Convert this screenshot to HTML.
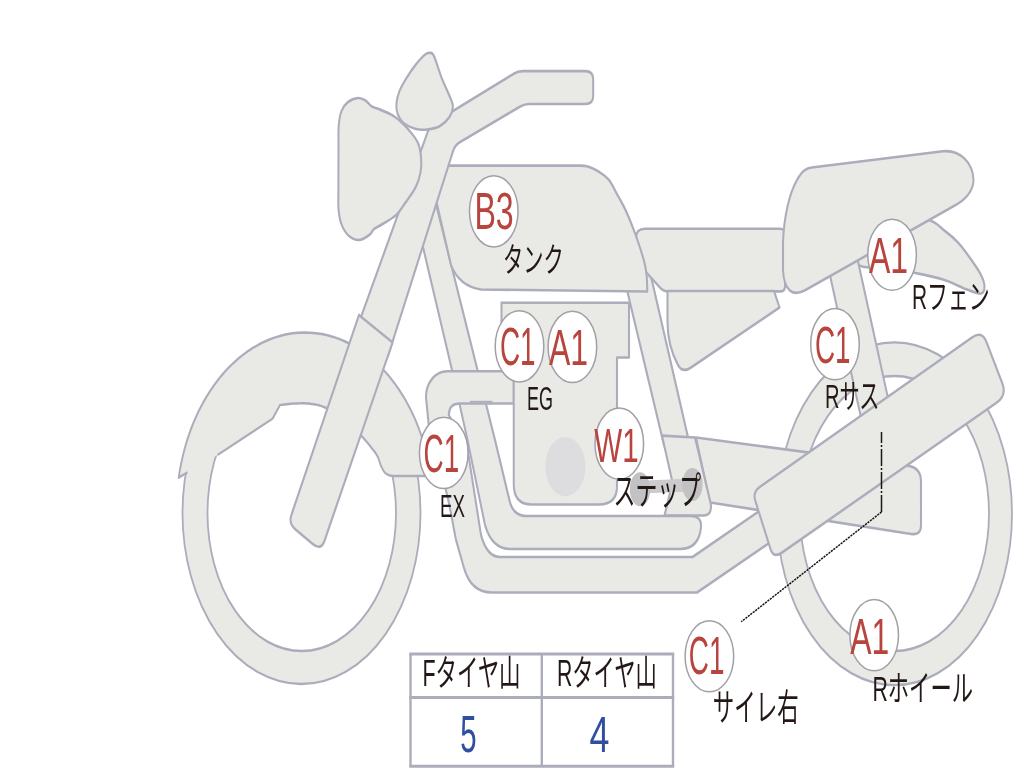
<!DOCTYPE html>
<html lang="ja"><head><meta charset="utf-8"><title>Motorcycle condition diagram</title>
<style>
html,body{margin:0;padding:0;background:#fff;}
body{width:1024px;height:768px;overflow:hidden;font-family:"Liberation Sans",sans-serif;}
svg{display:block;filter:blur(0.7px);}
.t{font-family:"Liberation Sans","Noto Sans CJK JP",sans-serif;}
</style></head><body>
<svg width="1024" height="768" viewBox="0 0 1024 768">
<rect width="1024" height="768" fill="#fff"/>
<path transform="scale(1,1.3)" d="M777 395.19 A117.5,131.73 0 1 0 1012,395.19 A117.5,131.73 0 1 0 777,395.19 Z M800 395 A94.5,105.77 0 1 0 989,395 A94.5,105.77 0 1 0 800,395 Z" fill="#e9eae6" stroke="#acadbb" stroke-width="1.8" stroke-linejoin="round" fill-rule="evenodd"/>
<path transform="scale(1,1.3)" d="M182.5 394.62 A119,131.54 0 1 0 420.5,394.62 A119,131.54 0 1 0 182.5,394.62 Z M207.5 394.62 A94.25,106.15 0 1 0 396,394.62 A94.25,106.15 0 1 0 207.5,394.62 Z" fill="#e9eae6" stroke="#acadbb" stroke-width="1.8" stroke-linejoin="round" fill-rule="evenodd"/>
<path transform="scale(1,1.3)" d="M178.7 367.41 L179.98 361.23 L181.52 355.12 L183.32 349.1 L185.37 343.17 L187.67 337.35 L190.21 331.65 L192.99 326.07 L196 320.64 L199.24 315.36 L202.7 310.25 L206.37 305.32 L210.25 300.56 L214.33 296.01 L218.59 291.65 L223.03 287.52 L227.64 283.6 L232.41 279.92 L237.34 276.47 L242.4 273.27 L247.6 270.32 L252.91 267.63 L258.33 265.2 L263.85 263.05 L269.45 261.16 L275.13 259.55 L280.87 258.23 L286.66 257.18 L292.49 256.42 L298.35 255.95 L304.21 255.77 L310.08 255.88 L315.94 256.27 L321.78 256.95 L327.58 257.92 L333.33 259.17 L339.03 260.7 L344.66 262.52 L350.2 264.6 L355.65 266.95 L360.99 269.58 L366.22 272.45 L371.32 275.59 L376.28 278.97 L381.09 282.59 L385.75 286.45 L390.24 290.52 L394.55 294.82 L398.68 299.32 L402.61 304.02 L406.33 308.91 L409.85 313.98 L413.15 319.21 L416.23 324.6 L419.07 330.14 L421.68 335.81 L424.04 341.6 L426.16 347.5 L428.02 353.5 L429.63 359.59 L430.99 365.75 L425 366.15 L393.5 366.15 L389.5 365.85 L389.22 365.72 L388.84 365.56 L388.39 365.37 L387.89 365.16 L387.37 364.93 L386.87 364.69 L386.4 364.46 L386 364.23 L385.67 364.02 L385.37 363.84 L385.1 363.65 L384.85 363.45 L384.6 363.24 L384.35 362.98 L384.07 362.68 L383.75 362.31 L383.4 361.88 L383.02 361.39 L382.63 360.87 L382.23 360.3 L381.82 359.7 L381.41 359.06 L381 358.39 L380.6 357.69 L380.23 356.95 L379.9 356.16 L379.57 355.32 L379.24 354.46 L378.89 353.58 L378.5 352.69 L378.04 351.82 L377.5 350.96 L376.9 350.14 L376.26 349.35 L375.58 348.56 L374.85 347.78 L374.05 346.97 L373.2 346.12 L372.26 345.21 L371.25 344.23 L370.16 343.18 L369.01 342.08 L367.8 340.92 L366.51 339.72 L365.15 338.49 L363.71 337.22 L362.2 335.93 L360.6 334.62 L358.92 333.25 L357.15 331.82 L355.31 330.35 L353.38 328.85 L351.39 327.35 L349.33 325.87 L347.19 324.44 L345 323.08 L342.68 321.74 L340.19 320.38 L337.6 319.03 L334.96 317.73 L332.33 316.49 L329.75 315.35 L327.29 314.33 L325 313.46 L322.89 312.76 L320.9 312.21 L319.01 311.77 L317.19 311.43 L315.41 311.17 L313.63 310.95 L311.84 310.76 L310 310.58 L308.12 310.42 L306.25 310.31 L304.38 310.25 L302.5 310.23 L300.62 310.24 L298.75 310.28 L296.88 310.32 L295 310.38 L293.02 310.47 L290.9 310.61 L288.72 310.77 L286.56 310.95 L284.53 311.13 L282.7 311.3 L281.16 311.44 L280 311.54 L272.5 322.12 L217.5 350 L187.5 363.46 Z" fill="#e9eae6" stroke="none" stroke-width="2.05" stroke-linejoin="round" />
<path transform="scale(1,1.3)" d="M187.5 363.46 L178.7 367.41 L179.98 361.23 L181.52 355.12 L183.32 349.1 L185.37 343.17 L187.67 337.35 L190.21 331.65 L192.99 326.07 L196 320.64 L199.24 315.36 L202.7 310.25 L206.37 305.32 L210.25 300.56 L214.33 296.01 L218.59 291.65 L223.03 287.52 L227.64 283.6 L232.41 279.92 L237.34 276.47 L242.4 273.27 L247.6 270.32 L252.91 267.63 L258.33 265.2 L263.85 263.05 L269.45 261.16 L275.13 259.55 L280.87 258.23 L286.66 257.18 L292.49 256.42 L298.35 255.95 L304.21 255.77 L310.08 255.88 L315.94 256.27 L321.78 256.95 L327.58 257.92 L333.33 259.17 L339.03 260.7 L344.66 262.52 L350.2 264.6 L355.65 266.95 L360.99 269.58 L366.22 272.45 L371.32 275.59 L376.28 278.97 L381.09 282.59 L385.75 286.45 L390.24 290.52 L394.55 294.82 L398.68 299.32 L402.61 304.02 L406.33 308.91 L409.85 313.98 L413.15 319.21 L416.23 324.6 L419.07 330.14 L421.68 335.81 L424.04 341.6 L426.16 347.5 L428.02 353.5 L429.63 359.59 L430.99 365.75 L425 366.15 L393.5 366.15 L389.5 365.85 L389.22 365.72 L388.84 365.56 L388.39 365.37 L387.89 365.16 L387.37 364.93 L386.87 364.69 L386.4 364.46 L386 364.23 L385.67 364.02 L385.37 363.84 L385.1 363.65 L384.85 363.45 L384.6 363.24 L384.35 362.98 L384.07 362.68 L383.75 362.31 L383.4 361.88 L383.02 361.39 L382.63 360.87 L382.23 360.3 L381.82 359.7 L381.41 359.06 L381 358.39 L380.6 357.69 L380.23 356.95 L379.9 356.16 L379.57 355.32 L379.24 354.46 L378.89 353.58 L378.5 352.69 L378.04 351.82 L377.5 350.96 L376.9 350.14 L376.26 349.35 L375.58 348.56 L374.85 347.78 L374.05 346.97 L373.2 346.12 L372.26 345.21 L371.25 344.23 L370.16 343.18 L369.01 342.08 L367.8 340.92 L366.51 339.72 L365.15 338.49 L363.71 337.22 L362.2 335.93 L360.6 334.62 L358.92 333.25 L357.15 331.82 L355.31 330.35 L353.38 328.85 L351.39 327.35 L349.33 325.87 L347.19 324.44 L345 323.08 L342.68 321.74 L340.19 320.38 L337.6 319.03 L334.96 317.73 L332.33 316.49 L329.75 315.35 L327.29 314.33 L325 313.46 L322.89 312.76 L320.9 312.21 L319.01 311.77 L317.19 311.43 L315.41 311.17 L313.63 310.95 L311.84 310.76 L310 310.58 L308.12 310.42 L306.25 310.31 L304.38 310.25 L302.5 310.23 L300.62 310.24 L298.75 310.28 L296.88 310.32 L295 310.38 L293.02 310.47 L290.9 310.61 L288.72 310.77 L286.56 310.95 L284.53 311.13 L282.7 311.3 L281.16 311.44 L280 311.54 L272.5 322.12 L217.5 350" fill="none" stroke="#acadbb" stroke-width="1.9" stroke-linejoin="round" />
<path transform="scale(1,1.3)" d="M900 173.08 C913 168.59 920.5 168.46 928 169.23 C935.5 170 940 174.81 945 177.69 C950 180.58 953.83 183.08 958 186.54 C962.17 190 966.25 194.42 970 198.46 C973.75 202.5 978.08 207.18 980.5 210.77 C982.92 214.36 984.42 217.5 984.5 220 C984.58 222.5 983.92 225.32 981 225.77 C978.08 226.22 973.33 224.48 967 222.69 C960.67 220.9 951.58 217.12 943 215 C934.42 212.88 924.33 211.35 915.5 210 C906.67 208.65 899.17 207.82 890 206.92 C880.83 206.02 867.17 206.41 860.5 204.62 C853.83 202.82 843.42 201.41 850 196.15 C856.58 190.9 887 177.56 900 173.08 Z" fill="#e9eae6" stroke="#acadbb" stroke-width="2.05" stroke-linejoin="round" />
<path transform="scale(1,1.3)" d="M824.5 192.31 L855.5 192.31 L895 330.77 L863.7 330.77 Z" fill="#e9eae6" stroke="#acadbb" stroke-width="2.05" stroke-linejoin="round" />
<path transform="scale(1,1.3)" d="M621 201.54 L647.7 201.54 L690 343.08 L664.2 343.08 L627.5 224.62 Z" fill="#e9eae6" stroke="#acadbb" stroke-width="2.05" stroke-linejoin="round" />
<path transform="scale(1,1.3)" d="M696 336.54 L907.12 358.19 Q921 359.62 921 370.38 L921 404.23 Q921 411.92 911.12 410.73 L710 386.54 Z" fill="#e9eae6" stroke="#acadbb" stroke-width="2.05" stroke-linejoin="round" />
<path transform="scale(1,1.3)" d="M662 335.08 L695 336.54 L710.58 387.01 Q711.5 390 710.37 392.95 L710.25 393.27 Q709 396.54 703 396.54 L664.5 396.54 L672.5 371.15 Z" fill="#e9eae6" stroke="#acadbb" stroke-width="2.05" stroke-linejoin="round" />
<path transform="scale(1,1.3)" d="M430 138.46 L435 153.85 L477.5 284.62 L495 338.46 L510 386.54 Q514 396.92 526 396.92 H690 Q702 396.92 701 405.38 Q699 422.31 680 422.31 H510 Q492 422.31 485 403.85 L467.5 338.46 L452 284.62 L422.5 188.46 L410 146.15 Z" fill="#e9eae6" stroke="#acadbb" stroke-width="2.05" stroke-linejoin="round" />
<path transform="scale(1,1.3)" d="M513.75 285.58 H447.5 C435 285.58 425.8 294.62 426 305.77 L428.75 326.92 C432 346.15 440 361.54 445.5 375.77 C450 388.46 452 400 456 415.38 L464 436.92 Q471 455.77 492 455.77 H697 L800 401.54 L790 376.92 L692.5 428.46 H500 Q487 428.46 481 411.54 L467.5 345.15 L448.75 319.23 Q449 310.38 459.5 310.38 H513.75 Z" fill="#e9eae6" stroke="#acadbb" stroke-width="2.05" stroke-linejoin="round" />
<path d="M470,401.6 H492.5" stroke="#acadbb" stroke-width="1.6" fill="none"/>
<path transform="scale(1,1.3)" d="M755.21 385.06 Q752.5 378.46 759.86 374.48 L972.19 259.55 Q982 254.23 986.31 262.85 L1002.33 294.9 Q1007 304.23 996.34 309.95 L781.7 425.22 Q773.5 429.62 770.49 422.28 Z" fill="#e9eae6" stroke="#acadbb" stroke-width="2.05" stroke-linejoin="round" />
<path transform="scale(1,1.3)" d="M501.5 232.88 H629 V275 H617 V373.85 Q617 388.08 599 388.08 H531.5 Q513.75 388.08 513.75 372.31 V275 H501.5 Z" fill="#e9eae6" stroke="#acadbb" stroke-width="2.05" stroke-linejoin="round" />
<ellipse cx="565.4" cy="466.6" rx="20" ry="29.7" fill="#dddddf"/>
<path transform="scale(1,1.3)" d="M636 182.88 Q636 175.96 645 175.96 L780 175.96 Q785 175.96 785 179.81 L785 220.31 Q785 224.15 780 224.15 L668.5 224.15 Q663.5 224.15 660.14 221.31 L645 208.46 L636 192.31 Z" fill="#e9eae6" stroke="#acadbb" stroke-width="2.05" stroke-linejoin="round" />
<path transform="scale(1,1.3)" d="M447 127.38 L560 127.38 C562.5 127.38 570.5 127.29 575 127.38 C579.5 127.48 582.83 127.04 587 127.92 C591.17 128.81 596.33 130.94 600 132.69 C603.67 134.45 606.08 135.58 609 138.46 C611.92 141.35 614.67 146.02 617.5 150 C620.33 153.98 622.92 157.05 626 162.31 C629.08 167.56 633.04 175.25 636 181.54 C638.96 187.82 641.98 195 643.75 200 C645.52 205 646.02 207.5 646.6 211.54 C647.18 215.58 647.14 222.12 647.25 224.23 L481 222.69 C465 220.77 456 213.85 451 203.85 L436 153.85 Z" fill="#e9eae6" stroke="#acadbb" stroke-width="2.05" stroke-linejoin="round" />
<path transform="scale(1,1.3)" d="M667.5 223.85 L774 223.85 L779.5 236.54 L691 282.69 Q682.5 287.31 678 280.77 C671 270.77 667.5 260 667.5 247.69 Z" fill="#e9eae6" stroke="#acadbb" stroke-width="2.05" stroke-linejoin="round" />
<path transform="scale(1,1.3)" d="M783 186.54 C784 165.38 790 147.69 797 138.46 C802 131.54 806 129.38 811.75 128.85 L943 116.35 C960 114.85 973 125.38 973.5 138.46 C973.5 146.92 965 154.23 953 158.85 L805.5 223.08 C793 228.46 784 223.85 783 207.69 Z" fill="#e9eae6" stroke="#acadbb" stroke-width="2.05" stroke-linejoin="round" />
<path transform="scale(1,1.3)" d="M430 96.15 L513.73 56.78 Q518 54.77 523 54.77 L585.2 54.77 Q593.2 54.77 593.2 60.92 L593.2 73.85 Q593.2 80 585.2 80 L529.5 80 Q524.5 80 520.19 81.95 L460.17 109.19 Q455 111.54 453.18 115.94 L388 273.85 L352 263.08 L427.5 101.92 Z" fill="#e9eae6" stroke="#acadbb" stroke-width="2.05" stroke-linejoin="round" />
<path transform="scale(1,1.3)" d="M359 242.31 L392.5 263.46 L324.57 415.84 Q321 423.85 312.6 418.38 L295.37 407.16 Q288.5 402.69 291.38 396.13 Z" fill="#e9eae6" stroke="#acadbb" stroke-width="2.05" stroke-linejoin="round" />
<path transform="scale(1,1.3)" d="M338.5 115.38 C338.55 107.18 338.2 101.92 338.7 96.92 C339.2 91.92 339.95 88.46 341.5 85.38 C343.05 82.31 345.25 80.13 348 78.46 C350.75 76.79 355.08 75.58 358 75.38 C360.92 75.19 363.25 76.25 365.5 77.31 C367.75 78.37 369.42 80.71 371.5 81.77 C373.58 82.83 374.83 82.67 378 83.69 C381.17 84.71 387.17 86.55 390.5 87.88 C393.83 89.22 394.88 89.65 398 91.73 C401.12 93.82 405.92 97.34 409.25 100.38 C412.58 103.43 416.02 106.48 418 110 C419.98 113.52 420.68 117.75 421.1 121.54 C421.52 125.32 421.43 128.91 420.5 132.69 C419.57 136.48 418 140.38 415.5 144.23 C413 148.08 408.73 152.25 405.5 155.77 C402.27 159.29 399.85 162.66 396.1 165.38 C392.35 168.11 386.64 170.32 383 172.12 C379.36 173.91 376.54 174.71 374.25 176.15 C371.96 177.6 371.75 179.36 369.25 180.77 C366.75 182.18 362.58 184.45 359.25 184.62 C355.92 184.78 352.17 183.65 349.25 181.73 C346.33 179.81 343.52 176.45 341.75 173.08 C339.98 169.71 339.16 166.02 338.6 161.54 C338.04 157.05 338.42 153.85 338.4 146.15 C338.38 138.46 338.45 123.59 338.5 115.38 Z" fill="#e9eae6" stroke="#acadbb" stroke-width="2.05" stroke-linejoin="round" />
<path transform="scale(1,1.3)" d="M430 40.62 C431.58 40.75 432.08 39.91 434 43.08 C435.92 46.25 438.63 53.98 441.5 59.62 C444.37 65.25 449.32 73.02 451.2 76.92 C453.07 80.83 453.03 80.9 452.75 83.08 C452.47 85.25 451.62 87.69 449.5 90 C447.38 92.31 443.67 95.32 440 96.92 C436.33 98.52 431.67 99.26 427.5 99.62 C423.33 99.97 419 99.87 415 99.04 C411 98.21 406.42 96.57 403.5 94.62 C400.58 92.66 398.67 89.87 397.5 87.31 C396.33 84.75 396.17 82.12 396.5 79.23 C396.83 76.35 397.83 73.21 399.5 70 C401.17 66.79 403.83 63.33 406.5 60 C409.17 56.67 412.5 52.95 415.5 50 C418.5 47.05 422.08 43.87 424.5 42.31 C426.92 40.75 428.42 40.48 430 40.62 Z" fill="#e9eae6" stroke="#acadbb" stroke-width="2.05" stroke-linejoin="round" />
<path d="M639.9,480.8 L692.4,478.6 L692.4,491.4 L639.9,493.6 Z" fill="#cbcbcd"/>
<ellipse cx="640" cy="489.3" rx="10.2" ry="17" fill="#c2c2c4"/>
<ellipse cx="692.4" cy="484.5" rx="10.2" ry="16.6" fill="#c2c2c4"/>
<path d="M881.5,512 V432" stroke="#1d1513" stroke-width="1.5" stroke-dasharray="17 2 2 2" fill="none"/>
<path d="M881.5,512 L741.25,621.75" stroke="#1d1513" stroke-width="1.5" stroke-dasharray="2.2 0.9" fill="none"/>
<rect x="410.5" y="654" width="262.5" height="112.3" fill="#fff"/>
<path d="M409.3,654 H674.2 M409.3,697.4 H674.2 M409.3,766.3 H674.2" stroke="#acadbb" stroke-width="3" fill="none"/>
<path d="M410.5,654 V766.3 M541.8,654 V766.3 M673,654 V766.3" stroke="#acadbb" stroke-width="2.4" fill="none"/>
<ellipse cx="493.75" cy="211.3" rx="24.3" ry="35.6" fill="#fff" stroke="#a0a0a6" stroke-width="1.5"/>
<ellipse cx="519.5" cy="346.3" rx="24.3" ry="35.6" fill="#fff" stroke="#a0a0a6" stroke-width="1.5"/>
<ellipse cx="572.4" cy="346.9" rx="24.3" ry="35.6" fill="#fff" stroke="#a0a0a6" stroke-width="1.5"/>
<ellipse cx="443.75" cy="452.9" rx="24.3" ry="35.6" fill="#fff" stroke="#a0a0a6" stroke-width="1.5"/>
<ellipse cx="619.3" cy="443.65" rx="24.3" ry="35.6" fill="#fff" stroke="#a0a0a6" stroke-width="1.5"/>
<ellipse cx="892.1" cy="254.75" rx="24.3" ry="35.6" fill="#fff" stroke="#a0a0a6" stroke-width="1.5"/>
<ellipse cx="835" cy="344.15" rx="24.3" ry="35.6" fill="#fff" stroke="#a0a0a6" stroke-width="1.5"/>
<ellipse cx="874.2" cy="635.15" rx="24.3" ry="35.6" fill="#fff" stroke="#a0a0a6" stroke-width="1.5"/>
<ellipse cx="709.4" cy="656.25" rx="24.3" ry="35.6" fill="#fff" stroke="#a0a0a6" stroke-width="1.5"/>
<g aria-label="B3"><text class="t" fill="#b8443e" x="474.4" y="229" font-size="51.22" textLength="39.35" lengthAdjust="spacingAndGlyphs">B3</text></g>
<g aria-label="C1"><text class="t" fill="#b8443e" x="499.9" y="365" font-size="52.84" textLength="35.6" lengthAdjust="spacingAndGlyphs">C1</text></g>
<g aria-label="A1"><text class="t" fill="#b8443e" x="548.9" y="365" font-size="49.53" textLength="39.1" lengthAdjust="spacingAndGlyphs">A1</text></g>
<g aria-label="C1"><text class="t" fill="#b8443e" x="423.6" y="471.6" font-size="52.84" textLength="35.65" lengthAdjust="spacingAndGlyphs">C1</text></g>
<g aria-label="W1"><text class="t" fill="#b8443e" x="594.25" y="461.75" font-size="47.91" textLength="44.35" lengthAdjust="spacingAndGlyphs">W1</text></g>
<g aria-label="A1"><text class="t" fill="#b8443e" x="869" y="273" font-size="50.38" textLength="39.1" lengthAdjust="spacingAndGlyphs">A1</text></g>
<g aria-label="C1"><text class="t" fill="#b8443e" x="815" y="362.9" font-size="52" textLength="35.6" lengthAdjust="spacingAndGlyphs">C1</text></g>
<g aria-label="A1"><text class="t" fill="#b8443e" x="850.25" y="653.9" font-size="49.59" textLength="39" lengthAdjust="spacingAndGlyphs">A1</text></g>
<g aria-label="C1"><text class="t" fill="#b8443e" x="688.75" y="673.9" font-size="52.78" textLength="35.65" lengthAdjust="spacingAndGlyphs">C1</text></g>
<g aria-label="EG"><text class="t" fill="#231815" x="527" y="410" font-size="33.28" textLength="26" lengthAdjust="spacingAndGlyphs">EG</text></g>
<g aria-label="EX"><text class="t" fill="#231815" x="439.9" y="516.6" font-size="31.66" textLength="25" lengthAdjust="spacingAndGlyphs">EX</text></g>
<g aria-label="5"><text class="t" fill="#2f4f9f" x="460.25" y="752" font-size="51.16" textLength="16.35" lengthAdjust="spacingAndGlyphs">5</text></g>
<g aria-label="4"><text class="t" fill="#2f4f9f" x="589.4" y="751.7" font-size="49.99" textLength="19.9" lengthAdjust="spacingAndGlyphs">4</text></g>
<g aria-label="タンク"><text class="t" fill="#231815" x="503.1" y="272" font-size="34.19" textLength="60.65" lengthAdjust="spacingAndGlyphs">タンク</text></g>
<g aria-label="ステップ"><text class="t" fill="#231815" x="613.6" y="503.5" font-size="38.02" textLength="87.4" lengthAdjust="spacingAndGlyphs">ステップ</text></g>
<g aria-label="Rフェン"><text class="t" fill="#231815" x="912" y="308.5" font-size="34.19" textLength="77.75" lengthAdjust="spacingAndGlyphs">Rフェン</text></g>
<g aria-label="Rサス"><text class="t" fill="#231815" x="825" y="407.9" font-size="33.34" textLength="54.4" lengthAdjust="spacingAndGlyphs">Rサス</text></g>
<g aria-label="Rホイール"><text class="t" fill="#231815" x="872.4" y="700.75" font-size="35.75" textLength="100.6" lengthAdjust="spacingAndGlyphs">Rホイール</text></g>
<g aria-label="サイレ右"><text class="t" fill="#231815" x="712.75" y="721" font-size="37.44" textLength="86" lengthAdjust="spacingAndGlyphs">サイレ右</text></g>
<g aria-label="Fタイヤ山"><text class="t" fill="#231815" x="422.4" y="686.1" font-size="36.59" textLength="98.1" lengthAdjust="spacingAndGlyphs">Fタイヤ山</text></g>
<g aria-label="Rタイヤ山"><text class="t" fill="#231815" x="557" y="686.1" font-size="36.59" textLength="99.75" lengthAdjust="spacingAndGlyphs">Rタイヤ山</text></g>
</svg>
</body></html>
